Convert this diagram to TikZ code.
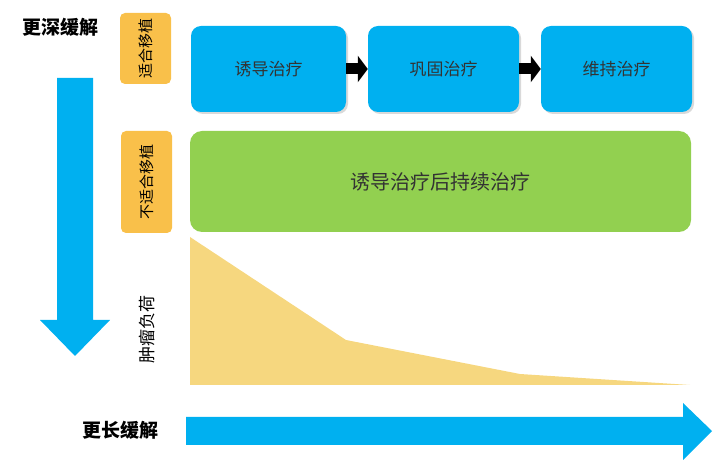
\documentclass[tikz,border=0pt]{standalone}
\usepackage{fontspec}
\setmainfont{Noto Sans CJK SC}
\usetikzlibrary{shadows,arrows.meta}
\definecolor{cy}{HTML}{00B0F0}
\definecolor{og}{HTML}{F9C04A}
\definecolor{gr}{HTML}{92D050}
\definecolor{ye}{HTML}{F6D77F}
\begin{document}
\begin{tikzpicture}[x=1pt,y=-1pt,
  lab/.style={draw=none,fill=og,rounded corners=5pt,inner sep=0pt},
  bbox/.style={fill=cy,rounded corners=10pt,drop shadow={shadow xshift=2pt,shadow yshift=-2pt,opacity=0.3},font=\fontsize{17}{19}\selectfont,text=black!80},
  conn/.style={line width=11pt,-{Triangle[length=10pt,width=26pt]},black}]
\useasboundingbox (0,0) rectangle (713,462);
\node[font=\bfseries\fontsize{19}{21}\selectfont] (t1) at (61,27) {更深缓解};
\fill[cy] (57,78) -- (93,78) -- (93,320) -- (110,320) -- (75,356) -- (40,320) -- (57,320) -- cycle;
\path[lab] (120,13) rectangle (171,84);
\node[rotate=90,font=\fontsize{15}{17}\selectfont] (l1) at (145.5,48.5) {适合移植};
\path[lab] (121,131) rectangle (172,233);
\node[rotate=90,font=\fontsize{15}{17}\selectfont] (l2) at (146.5,182) {不适合移植};
\node[bbox,minimum width=155pt,minimum height=86pt] (b1) at (268.5,69) {诱导治疗};
\node[bbox,minimum width=151pt,minimum height=86pt] (b2) at (443.5,69) {巩固治疗};
\node[bbox,minimum width=151pt,minimum height=86pt] (b3) at (616.5,69) {维持治疗};
\draw[conn] (b1.east) -- (b2.west);
\draw[conn] (b2.east) -- (b3.west);
\node[fill=gr,rounded corners=12pt,minimum width=501pt,minimum height=101pt,font=\fontsize{20}{22}\selectfont,text=black!80] (g) at (440.5,181.5) {诱导治疗后持续治疗};
\fill[ye] (190,237) -- (346,340) -- (520,374) -- (690,385) -- (190,385) -- cycle;
\node[rotate=90,font=\fontsize{17}{19}\selectfont] (tb) at (147,330) {肿瘤负荷};
\node[font=\bfseries\fontsize{19}{21}\selectfont] (t2) at (120,430) {更长缓解};
\fill[cy] (186,417) -- (683,417) -- (683,403) -- (712,431) -- (683,460) -- (683,445) -- (186,445) -- cycle;
\end{tikzpicture}
\end{document}
